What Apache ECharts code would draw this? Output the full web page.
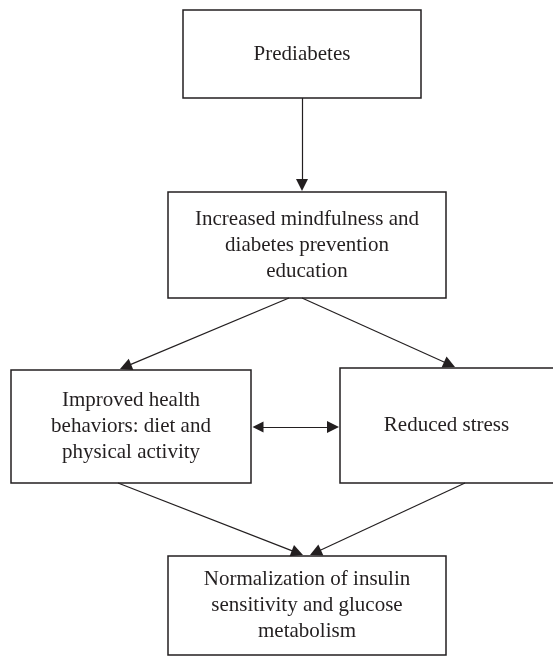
<!DOCTYPE html>
<html>
<head>
<meta charset="utf-8">
<script src="https://cdn.jsdelivr.net/npm/echarts@6/dist/echarts.min.js"></script>
<style>
  html, body { margin: 0; padding: 0; background: #fff; }
  #flow { width: 553px; height: 656px; }
</style>
</head>
<body>
<div id="flow"></div>
<script>
// boxes of the flowchart
const boxLabels = [
  'Prediabetes',
  'Increased mindfulness and\ndiabetes prevention\neducation',
  'Improved health\nbehaviors: diet and\nphysical activity',
  'Reduced stress',
  'Normalization of insulin\nsensitivity and glucose\nmetabolism'
]
// box extents [x0, y0, x1, y1] in page units
const boxExtents = [
  [183, 10, 421, 98],
  [168, 192, 446, 298],
  [11, 370, 251, 483],
  [340, 368, 555, 483],
  [168, 556, 446, 655]
]
// arrows: [from box, to box] and their end points (tip on the box edge)
const arrowLinks = [[0, 1], [1, 2], [1, 3], [2, 3], [2, 4], [3, 4]]
const arrowPoints = [
  [[302, 98], [302, 191]],
  [[289, 298], [120, 369]],
  [[302, 298], [455, 367]],
  [[252, 427], [339, 427]],
  [[118, 483], [303, 555]],
  [[465, 483], [310, 555]]
]
const twoWay = [false, false, false, true, false, false]

const ink = '#231f20'
const headLen = 12

// the triangle symbol sits centred on the line end, so pull the ends back
const pullBack = (from, to, d) => {
  const dx = to[0] - from[0]
  const dy = to[1] - from[1]
  const len = Math.sqrt(dx * dx + dy * dy)
  return [to[0] - dx / len * d, to[1] - dy / len * d]
}

const boxSeries = {
  type: 'custom',
  coordinateSystem: 'cartesian2d',
  data: boxExtents.map((b, i) => [b[0], b[1], b[2], b[3], i]),
  renderItem (params, api) {
    const p0 = api.coord([api.value(0), api.value(1)])
    const p1 = api.coord([api.value(2), api.value(3)])
    const i = api.value(4)
    return {
      type: 'group',
      children: [{
        type: 'rect',
        shape: { x: p0[0], y: p0[1], width: p1[0] - p0[0], height: p1[1] - p0[1] },
        style: { fill: '#fff', stroke: ink, lineWidth: 1.5 }
      }, {
        type: 'text',
        x: (p0[0] + Math.min(p1[0], 553)) / 2,
        y: (p0[1] + p1[1]) / 2,
        style: {
          text: boxLabels[i],
          fill: ink,
          font: '21px "Liberation Serif"',
          lineHeight: 26,
          align: 'center',
          verticalAlign: 'middle'
        }
      }]
    }
  },
  z: 1
}

const arrowSeries = {
  type: 'lines',
  coordinateSystem: 'cartesian2d',
  data: arrowLinks.map((l, i) => {
    const [a, b] = arrowPoints[i]
    const end = pullBack(a, b, headLen / 2)
    const start = twoWay[i] ? pullBack(b, a, headLen / 2) : a
    return {
      name: boxLabels[l[0]] + ' -> ' + boxLabels[l[1]],
      coords: [start, end],
      symbol: twoWay[i] ? ['triangle', 'triangle'] : ['none', 'triangle']
    }
  }),
  symbolSize: [11, headLen],
  lineStyle: { color: ink, width: 1.2, opacity: 1 },
  itemStyle: { color: ink },
  silent: true,
  z: 2
}

const flowChart = echarts.init(document.getElementById('flow'))
flowChart.setOption({
  animation: false,
  grid: { left: 0, right: 0, top: 0, bottom: 0 },
  xAxis: { type: 'value', min: 0, max: 553, show: false },
  yAxis: { type: 'value', min: 0, max: 656, inverse: true, show: false },
  series: [boxSeries, arrowSeries]
})
</script>
</body>
</html>
